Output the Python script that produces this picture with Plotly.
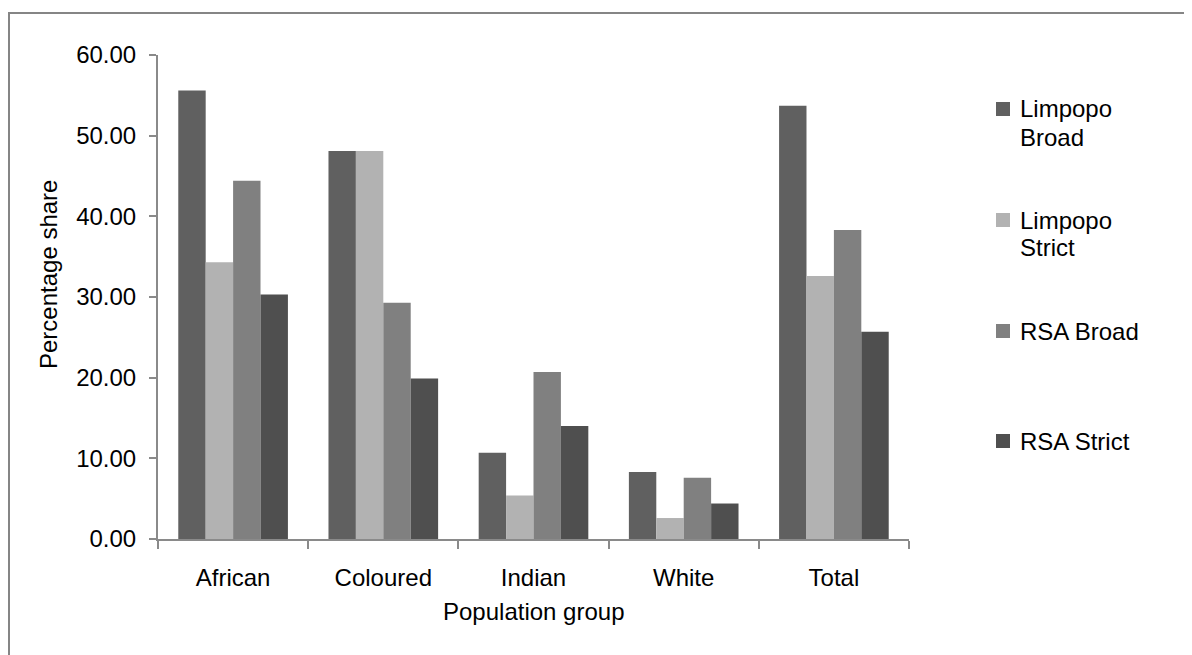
import plotly.graph_objects as go

categories = ["African", "Coloured", "Indian", "White", "Total"]
series_names = ["Limpopo Broad", "Limpopo Strict", "RSA Broad", "RSA Strict"]
legend_labels = ["Limpopo<br>Broad", "Limpopo<br>Strict", "RSA Broad", "RSA Strict"]
limpopo_broad = [55.6, 48.1, 10.7, 8.3, 53.7]
limpopo_strict = [34.3, 48.1, 5.4, 2.6, 32.6]
rsa_broad = [44.4, 29.3, 20.7, 7.6, 38.3]
rsa_strict = [30.3, 19.9, 14.0, 4.4, 25.7]
colors = ["#606060", "#b2b2b2", "#808080", "#4f4f4f"]
y_ticks = [0, 10, 20, 30, 40, 50, 60]

series_values = [limpopo_broad, limpopo_strict, rsa_broad, rsa_strict]

OFF = 8  # page body margin in the browser
W, H = 1192, 655
L, T = 158 - OFF, 55 - OFF
R = W - (909 - OFF)
B = H - (539 - OFF)
PW, PH = W - L - R, H - T - B


def px_to_paper_x(px):
    return (px - OFF - L) / PW


def px_to_paper_y(py):
    return (H - B - (py - OFF)) / PH


FONT = "Liberation Sans, Arial, sans-serif"
AXIS_COLOR = "#8a8a8a"

fig = go.Figure()
for name, vals, col in zip(series_names, series_values, colors):
    fig.add_trace(go.Bar(x=categories, y=vals, name=name,
                         marker=dict(color=col, line=dict(width=0)),
                         showlegend=False))

shapes = []
annotations = []
# outer chart border
shapes.append(dict(type="rect", xref="paper", yref="paper",
                   x0=px_to_paper_x(9), x1=px_to_paper_x(1230),
                   y0=px_to_paper_y(700), y1=px_to_paper_y(13),
                   line=dict(color="#858585", width=2),
                   fillcolor="rgba(0,0,0,0)", layer="below"))

# custom legend
legend_centers = [109, 220, 331, 441]
for lbl, col, cy in zip(legend_labels, colors, legend_centers):
    shapes.append(dict(type="rect", xref="paper", yref="paper",
                       x0=px_to_paper_x(996), x1=px_to_paper_x(1010),
                       y0=px_to_paper_y(cy + 7), y1=px_to_paper_y(cy - 7),
                       line=dict(width=0), fillcolor=col))
    lines = lbl.split("<br>")
    for i, ln in enumerate(lines):
        annotations.append(dict(text=ln, xref="paper", yref="paper",
                                x=px_to_paper_x(1018), y=px_to_paper_y(cy + i * 28),
                                xanchor="left", yanchor="middle", showarrow=False,
                                font=dict(family=FONT, size=24, color="#000000")))

# axis titles
annotations.append(dict(text="Percentage share", xref="paper", yref="paper",
                        x=px_to_paper_x(48), y=px_to_paper_y(275), textangle=-90,
                        xanchor="center", yanchor="middle", showarrow=False,
                        font=dict(family=FONT, size=24, color="#000000")))
annotations.append(dict(text="Population group", xref="paper", yref="paper",
                        x=px_to_paper_x(533.5), y=px_to_paper_y(611),
                        xanchor="center", yanchor="middle", showarrow=False,
                        font=dict(family=FONT, size=24, color="#000000")))

fig.update_layout(
    width=W, height=H, autosize=False,
    margin=dict(l=L, r=R, t=T, b=B, pad=0),
    paper_bgcolor="white", plot_bgcolor="white",
    barmode="group", bargap=0.27, bargroupgap=0,
    font=dict(family=FONT, size=24, color="#000000"),
    shapes=shapes, annotations=annotations,
    xaxis=dict(
        showline=True, linecolor=AXIS_COLOR, linewidth=2,
        ticks="outside", ticklen=8, tickcolor=AXIS_COLOR, tickwidth=2,
        tickson="boundaries", showgrid=False, zeroline=False,
        ticklabelstandoff=16,
        tickfont=dict(family=FONT, size=24, color="#000000"),
    ),
    yaxis=dict(
        range=[0, 60], tickvals=y_ticks, tickformat=".2f",
        showline=True, linecolor=AXIS_COLOR, linewidth=2,
        ticks="outside", ticklen=7, tickcolor=AXIS_COLOR, tickwidth=2,
        showgrid=False, zeroline=False,
        ticklabelstandoff=8,
        tickfont=dict(family=FONT, size=24, color="#000000"),
    ),
)

fig.write_html("out.html")
